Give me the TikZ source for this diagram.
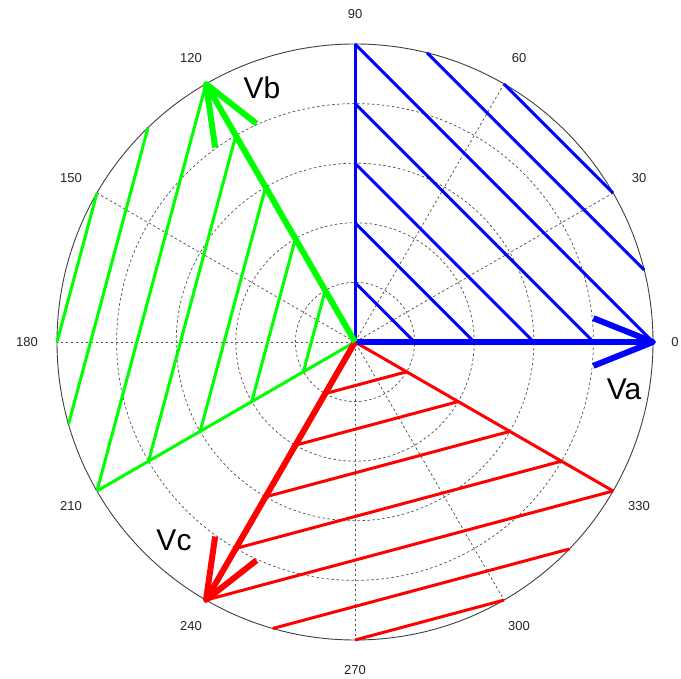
\documentclass[tikz,border=0pt]{standalone}
\usepackage{fontspec}
\setmainfont{Liberation Sans}
\begin{document}
\begin{tikzpicture}[x=1pt,y=1pt,
  grid/.style={draw=black!70, line width=0.7pt, dash pattern=on 2.5pt off 2.5pt},
  rim/.style={draw=black!75, line width=0.9pt},
  hatch/.style={line width=3pt},
  phasor/.style={line width=6pt, line cap=butt, line join=round},
  ang/.style={font=\fontsize{13}{13}\selectfont, text=black!85, inner sep=0pt},
  vlab/.style={font=\fontsize{30}{30}\selectfont, inner sep=0pt}]
\useasboundingbox (0,0) rectangle (681,679);
\fill[white] (0,0) rectangle (681,679);
\begin{scope}[shift={(355,337)}]
  \def\R{298}
  \coordinate (O) at (0,0);
  % grid
  \foreach \r in {0.2,0.4,0.6,0.8} \draw[grid] (O) circle ({\r*\R});
  \foreach \a in {0,30,...,150} {
    \coordinate (s\a) at (\a:\R);
    \coordinate (t\a) at (\a+180:\R);
    \draw[grid] (s\a) -- (t\a);
  }
  \draw[rim] (O) circle (\R);
  \node[ang] (lab0) at (0:320) {0};
  \foreach \a in {30,60,...,330} \node[ang] (lab\a) at (\a:328) {\a};
  % hatched triangles
  \foreach \base/\col in {0/blue, 240/red, 120/green} {
    \foreach \k in {1,2,3,4,5} {
      \coordinate (p\base-\k) at (\base+90:\k*0.2*\R);
      \coordinate (q\base-\k) at (\base:\k*0.2*\R);
      \draw[hatch,\col] (p\base-\k) -- (q\base-\k);
    }
    \coordinate (c1a\base) at (\base+14:\R);
    \coordinate (c1b\base) at (\base+76:\R);
    \coordinate (c2a\base) at (\base+30:\R);
    \coordinate (c2b\base) at (\base+60:\R);
    \draw[hatch,\col] (c1a\base) -- (c1b\base);
    \draw[hatch,\col] (c2a\base) -- (c2b\base);
  }
  % triangle edges (thin)
  \coordinate (e90) at (90:\R);
  \coordinate (e330) at (330:\R);
  \coordinate (e210) at (210:\R);
  \draw[hatch,blue] (O) -- (e90);
  \draw[hatch,red] (O) -- (e330);
  \draw[hatch,green] (O) -- (e210);
  % phasors with MATLAB style heads
  \foreach \ang/\col in {0/blue, 240/red, 120/green} {
    \begin{scope}[rotate=\ang]
      \coordinate (tip\ang) at (\R,0);
      \coordinate (bu\ang) at ({0.8*\R},{0.08*\R});
      \coordinate (bd\ang) at ({0.8*\R},{-0.08*\R});
      \draw[phasor,\col] (O) -- (tip\ang);
      \draw[phasor,\col] (bu\ang) -- (tip\ang) -- (bd\ang);
    \end{scope}
  }
\end{scope}
\node[vlab] (Va) at (624,290) {Va};
\node[vlab] (Vb) at (262,591) {Vb};
\node[vlab] (Vc) at (174,139) {Vc};
\end{tikzpicture}
\end{document}
